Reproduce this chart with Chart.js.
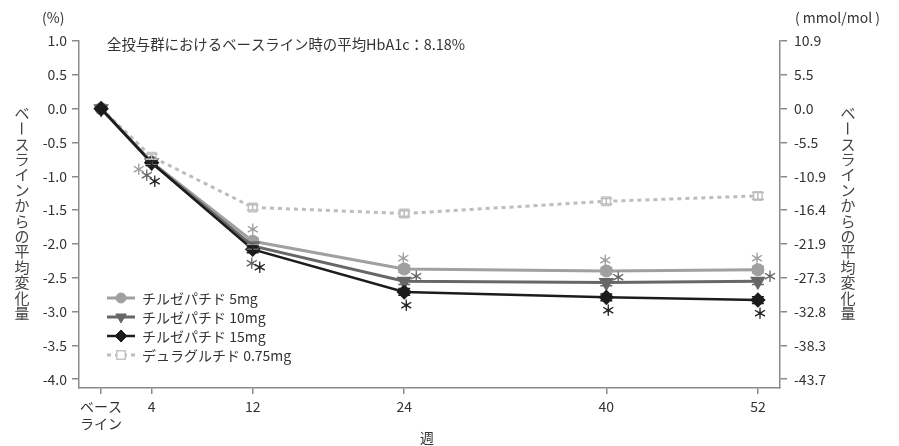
<!DOCTYPE html>
<html>
<head>
<meta charset="utf-8">
<script src="https://cdn.jsdelivr.net/npm/chart.js@4"></script>
<style>
  body { margin: 0; background: #fff; }
  #wrap { width: 899px; height: 446px; }
</style>
</head>
<body>
<div id="wrap"><canvas id="myChart" width="899" height="446"></canvas></div>
<script>
// data
const weeks = [0, 4, 12, 24, 40, 52];
const xTickLabels = [['ベース', 'ライン'], '4', '12', '24', '40', '52'];
const yTicks = [1.0, 0.5, 0.0, -0.5, -1.0, -1.5, -2.0, -2.5, -3.0, -3.5, -4.0];
const mmolLabels = ['10.9', '5.5', '0.0', '-5.5', '-10.9', '-16.4', '-21.9', '-27.3', '-32.8', '-38.3', '-43.7'];

const tirz5 = [0, -0.79, -1.96, -2.37, -2.40, -2.38];
const tirz10 = [0, -0.80, -2.03, -2.55, -2.57, -2.55];
const tirz15 = [0, -0.80, -2.08, -2.71, -2.79, -2.83];
const dula = [0, -0.71, -1.46, -1.55, -1.37, -1.29];

const tirz5Err = [0, 0.04, 0.05, 0.05, 0.05, 0.05];
const tirz10Err = [0, 0.04, 0.05, 0.05, 0.05, 0.05];
const tirz15Err = [0, 0.04, 0.05, 0.05, 0.05, 0.05];
const dulaErr = [0, 0.04, 0.04, 0.04, 0.04, 0.05];

const tirz5Sig = [false, true, true, true, true, true];
const tirz10Sig = [false, true, true, true, true, true];
const tirz15Sig = [false, true, true, true, true, true];

const seriesNames = ['チルゼパチド 5mg', 'チルゼパチド 10mg', 'チルゼパチド 15mg', 'デュラグルチド 0.75mg'];

const FONT = '"Noto Sans CJK JP", "Noto Sans", sans-serif';
const toXY = (vals) => vals.map((v, i) => ({ x: weeks[i], y: v }));

// asterisk offsets (px) relative to the point: week4, week12, later weeks
const starOffsets = [
  { w4: [-13, 7], w12: [0, -12], late: [-1, -11] },
  { w4: [-5, 13], w12: [-1, 17], late: [12, -5] },
  { w4: [3, 19], w12: [7, 18], late: [2, 13] }
];

const extras = {
  id: 'extras',
  afterDatasetsDraw(chart) {
    const c = chart.ctx;
    const xs = chart.scales.x, ys = chart.scales.y;
    const errs = [tirz5Err, tirz10Err, tirz15Err, dulaErr];
    const sigs = [tirz5Sig, tirz10Sig, tirz15Sig];
    const starCols = ['#a0a0a0', '#666666', '#222222'];

    // error bars
    chart.data.datasets.forEach((ds, d) => {
      c.save();
      c.strokeStyle = d === 3 ? '#bbbbbb' : ds.borderColor;
      c.lineWidth = 1.5;
      ds.data.forEach((p, i) => {
        const e = errs[d][i];
        if (!e) return;
        const px = xs.getPixelForValue(p.x);
        const y1 = ys.getPixelForValue(p.y + e), y2 = ys.getPixelForValue(p.y - e);
        c.beginPath();
        c.moveTo(px, y1); c.lineTo(px, y2);
        c.moveTo(px - 6, y1); c.lineTo(px + 6, y1);
        c.moveTo(px - 6, y2); c.lineTo(px + 6, y2);
        c.stroke();
      });
      c.restore();
    });

    // asterisks
    c.save();
    c.font = 'bold 15px ' + FONT;
    c.textAlign = 'center';
    c.textBaseline = 'middle';
    sigs.forEach((sg, d) => {
      const data = chart.data.datasets[d].data;
      sg.forEach((on, i) => {
        if (!on) return;
        const o = i === 1 ? starOffsets[d].w4 : i === 2 ? starOffsets[d].w12 : starOffsets[d].late;
        const px = xs.getPixelForValue(data[i].x) + o[0];
        const py = ys.getPixelForValue(data[i].y) + o[1];
        c.fillStyle = starCols[d];
        c.fillText('＊', px, py);
      });
    });
    c.restore();

    // legend
    c.save();
    c.font = '14px ' + FONT;
    c.textBaseline = 'middle';
    chart.data.datasets.forEach((ds, d) => {
      const y = 298 + d * 19;
      c.save();
      c.strokeStyle = ds.borderColor;
      c.lineWidth = ds.borderWidth;
      if (ds.borderDash) c.setLineDash(ds.borderDash);
      c.beginPath(); c.moveTo(107, y); c.lineTo(135, y); c.stroke();
      c.restore();
      c.save();
      c.fillStyle = ds.pointBackgroundColor;
      c.strokeStyle = ds.pointBorderColor;
      c.lineWidth = ds.pointBorderWidth || 1;
      Chart.helpers.drawPoint(c, {
        pointStyle: ds.pointStyle, rotation: ds.pointRotation || 0,
        radius: ds.pointRadius, borderWidth: ds.pointBorderWidth || 1
      }, 121, y);
      c.restore();
      c.fillStyle = '#333';
      c.fillText(seriesNames[d], 142, y + 1);
    });
    c.restore();

    // texts
    c.save();
    c.fillStyle = '#333';
    c.font = '14.4px ' + FONT;
    c.textBaseline = 'middle';
    c.textAlign = 'left';
    c.fillText('全投与群におけるベースライン時の平均HbA1c：8.18%', 107, 45);
    c.font = '14px ' + FONT;
    c.fillText('(%)', 42, 18);
    c.fillText('( mmol/mol )', 795, 18);
    c.textAlign = 'center';
    c.fillText('週', 427, 438);

    const vt = 'ベースラインからの平均変化量';
    c.font = '15px ' + FONT;
    c.fillStyle = '#444';
    [22, 848].forEach(cx => {
      [...vt].forEach((ch, k) => {
        const cy = 113 + k * 15.4;
        if (ch === 'ー') {
          c.save(); c.translate(cx, cy); c.rotate(Math.PI / 2);
          c.fillText(ch, 0, 0); c.restore();
        } else {
          c.fillText(ch, cx, cy);
        }
      });
    });
    c.restore();
  }
};

const ctx = document.getElementById('myChart');

const chrt = new Chart(ctx, {
  type: 'line',
  data: {
    datasets: [
      {
        label: seriesNames[0], data: toXY(tirz5), order: 2,
        borderColor: '#a0a0a0', borderWidth: 3,
        pointStyle: 'circle', pointRadius: 5,
        pointBackgroundColor: '#a0a0a0', pointBorderColor: '#a0a0a0'
      },
      {
        label: seriesNames[1], data: toXY(tirz10), order: 1,
        borderColor: '#676767', borderWidth: 3,
        pointStyle: 'triangle', pointRotation: 180, pointRadius: 6,
        pointBackgroundColor: '#676767', pointBorderColor: '#676767'
      },
      {
        label: seriesNames[2], data: toXY(tirz15), order: 0,
        borderColor: '#1c1c1c', borderWidth: 2.5,
        pointStyle: 'rectRot', pointRadius: 6,
        pointBackgroundColor: '#1c1c1c', pointBorderColor: '#1c1c1c'
      },
      {
        label: seriesNames[3], data: toXY(dula), order: 3,
        borderColor: '#bdbdbd', borderWidth: 3, borderDash: [4, 4],
        pointStyle: 'rect', pointRadius: 6, pointBorderWidth: 1.5,
        pointBackgroundColor: '#ffffff', pointBorderColor: '#c4c4c4'
      }
    ]
  },
  options: {
    responsive: false,
    animation: false,
    devicePixelRatio: 1,
    layout: { padding: { top: 41, left: 0, right: 0, bottom: 0 } },
    plugins: { legend: { display: false }, tooltip: { enabled: false } },
    scales: {
      x: {
        type: 'linear',
        min: -1.75, max: 53.75,
        afterBuildTicks: s => { s.ticks = weeks.map(v => ({ value: v })); },
        afterFit: s => { s.height = 58; },
        border: { display: true, color: '#8a8a8a', width: 1.5 },
        grid: { drawOnChartArea: false, drawTicks: true, tickLength: 6, color: '#8a8a8a', lineWidth: 1.5 },
        ticks: {
          color: '#333', padding: 4, maxRotation: 0, autoSkip: false,
          font: { family: FONT, size: 14 },
          callback: (v, i) => xTickLabels[i]
        }
      },
      y: {
        position: 'left',
        min: -4.13, max: 1.0,
        afterBuildTicks: s => { s.ticks = yTicks.map(v => ({ value: v })); },
        afterFit: s => { s.width = 79; },
        border: { display: true, color: '#8a8a8a', width: 1.5 },
        grid: { drawOnChartArea: false, drawTicks: true, tickLength: 7, color: '#8a8a8a', lineWidth: 1.5 },
        ticks: {
          color: '#333', padding: 5,
          font: { family: FONT, size: 14 },
          callback: v => v.toFixed(1)
        }
      },
      y2: {
        position: 'right',
        min: -4.13, max: 1.0,
        afterBuildTicks: s => { s.ticks = yTicks.map(v => ({ value: v })); },
        afterFit: s => { s.width = 119; },
        border: { display: true, color: '#8a8a8a', width: 1.5 },
        grid: { drawOnChartArea: false, drawTicks: true, tickLength: 7, color: '#8a8a8a', lineWidth: 1.5 },
        ticks: {
          color: '#333', padding: 7,
          font: { family: FONT, size: 14 },
          callback: (v, i) => mmolLabels[i]
        }
      }
    }
  },
  plugins: [extras]
});

console.log(chrt);
</script>
</body>
</html>
